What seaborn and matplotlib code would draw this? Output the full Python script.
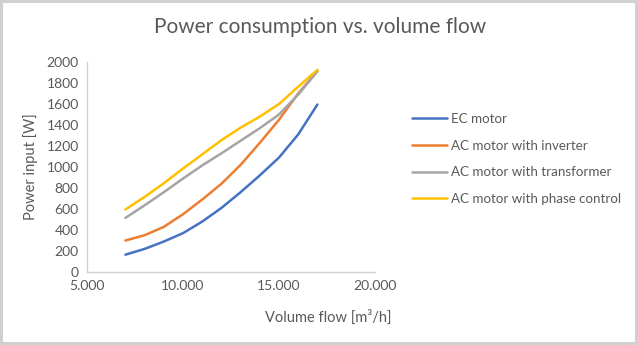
import matplotlib
matplotlib.use("Agg")
import matplotlib.pyplot as plt
import seaborn as sns
import pandas as pd
from matplotlib.ticker import FuncFormatter, MultipleLocator

volume_flow = [7000, 8000, 9000, 10000, 11000, 12000, 13000, 14000, 15000, 16000, 17000]
ec_motor = [165, 220, 290, 370, 480, 610, 760, 920, 1090, 1310, 1595]
ac_inverter = [300, 350, 430, 550, 690, 840, 1020, 1230, 1450, 1700, 1915]
ac_transformer = [515, 635, 760, 890, 1015, 1130, 1250, 1370, 1500, 1690, 1910]
ac_phase = [595, 715, 845, 985, 1120, 1255, 1375, 1480, 1600, 1765, 1925]

series_names = ["EC motor", "AC motor with inverter", "AC motor with transformer",
                "AC motor with phase control"]
series_values = [ec_motor, ac_inverter, ac_transformer, ac_phase]
colors = ["#4472C4", "#ED7D31", "#A5A5A5", "#FFC000"]

rows = []
for name, vals in zip(series_names, series_values):
    for x, v in zip(volume_flow, vals):
        rows.append({"Volume flow": x, "Power": v, "Series": name})
df = pd.DataFrame(rows)

sns.set_style("white")
plt.rcParams["font.family"] = ["Lato", "DejaVu Sans"]

W, H = 638, 345
fig = plt.figure(figsize=(W / 100, H / 100), dpi=100)
fig.patch.set_facecolor("white")
fig.patch.set_edgecolor("#d0d0d0")
fig.patch.set_linewidth(3)

ax = fig.add_axes([87 / W, 1 - 272 / H, 288 / W, 210 / H])
sns.lineplot(data=df, x="Volume flow", y="Power", hue="Series",
             palette=colors, hue_order=series_names, linewidth=1.8, ax=ax,
             legend=True)

text_color = "#595959"
ax.set_xlim(5000, 20000)
ax.set_ylim(0, 2000)
ax.xaxis.set_major_locator(MultipleLocator(5000))
ax.yaxis.set_major_locator(MultipleLocator(200))
ax.xaxis.set_major_formatter(FuncFormatter(lambda v, p: f"{v:,.0f}".replace(",", ".")))
ax.tick_params(axis="both", colors=text_color, labelsize=10, length=0, pad=6)
for s in ["top", "right"]:
    ax.spines[s].set_visible(False)
for s in ["left", "bottom"]:
    ax.spines[s].set_color("#d0d0d0")
    ax.spines[s].set_linewidth(1)
ax.set_xlabel("")
ax.set_ylabel("Power input [W]", color=text_color, fontsize=10.5, labelpad=6)

fig.text(328 / W, 1 - 317 / H, "Volume flow [m³/h]", color=text_color,
         fontsize=10.5, ha="center", va="center")
fig.text(320 / W, 1 - 27 / H, "Power consumption vs. volume flow", color=text_color,
         fontsize=15, ha="center", va="center")

handles, labels = ax.get_legend_handles_labels()
ax.legend(handles, labels, loc="upper left", bbox_to_anchor=(400 / W, 1 - 101 / H),
          bbox_transform=fig.transFigure, frameon=False, fontsize=9.6,
          labelcolor=text_color, handlelength=2.6, handletextpad=0.3,
          labelspacing=1.1)

fig.savefig("out.png", dpi=100)
